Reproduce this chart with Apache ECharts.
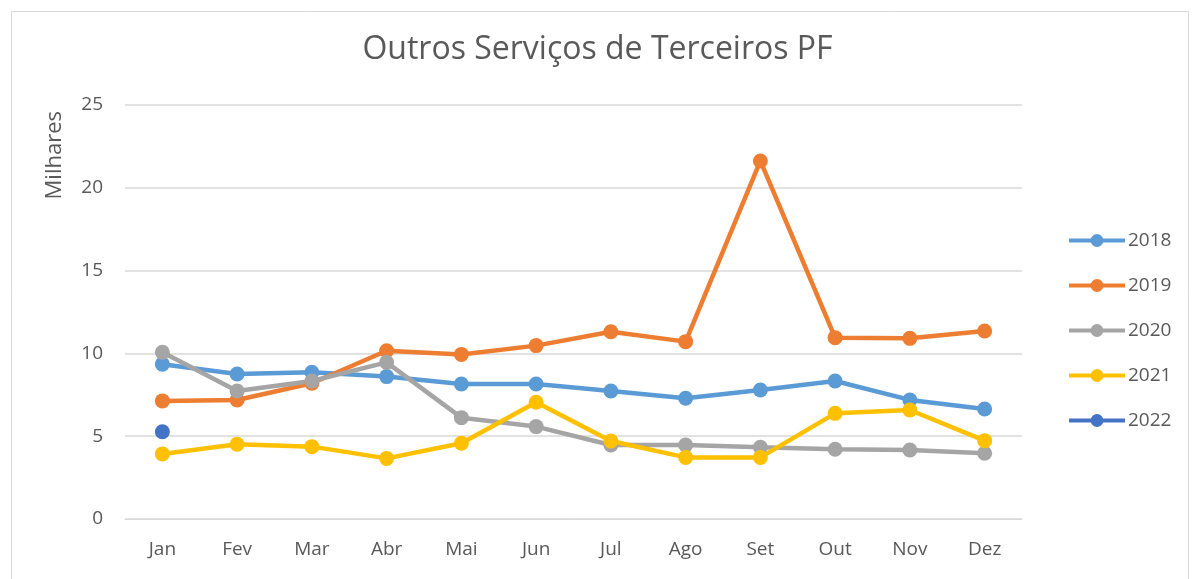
<!DOCTYPE html>
<html><head><meta charset="utf-8">
<script src="https://cdn.jsdelivr.net/npm/echarts@6/dist/echarts.min.js"></script>
<style>html,body{margin:0;padding:0;background:#fff}#c{width:1195px;height:579px}</style>
</head><body><div id="c"></div>
<script>
const categories = ['Jan','Fev','Mar','Abr','Mai','Jun','Jul','Ago','Set','Out','Nov','Dez'];
const s2018 = [9.35, 8.76, 8.86, 8.6, 8.15, 8.15, 7.73, 7.29, 7.79, 8.33, 7.19, 6.64];
const s2019 = [7.13, 7.19, 8.2, 10.16, 9.94, 10.47, 11.31, 10.71, 21.62, 10.95, 10.91, 11.35];
const s2020 = [10.07, 7.73, 8.33, 9.46, 6.12, 5.58, 4.47, 4.47, 4.33, 4.21, 4.17, 3.97];
const s2021 = [3.93, 4.51, 4.37, 3.66, 4.57, 7.05, 4.71, 3.72, 3.72, 6.38, 6.58, 4.73];
const s2022 = [5.27, null, null, null, null, null, null, null, null, null, null, null];
const seriesNames = ['2018','2019','2020','2021','2022'];
const yTicks = [0, 5, 10, 15, 20, 25];
const colors = ['#5B9BD5','#ED7D31','#A5A5A5','#FFC000','#4472C4'];
const font = 'Open Sans, Liberation Sans, sans-serif';
const chart = echarts.init(document.getElementById('c'));
const mk = (name, data, i) => ({
  name, type: 'line', data, symbol: 'circle', symbolSize: 15,
  lineStyle: {width: 4.5, color: colors[i]}, itemStyle: {color: colors[i]},
  connectNulls: false
});
chart.setOption({
  animation: false,
  title: {text: 'Outros Serviços de Terceiros PF', left: 'center', top: 29,
    textStyle: {fontFamily: font, fontSize: 32, fontWeight: 'normal', color: '#595959'}},
  legend: {orient: 'vertical', left: 1062, top: 226, itemWidth: 56, itemHeight: 16, itemGap: 26,
    data: seriesNames,
    lineStyle: {width: 4},
    textStyle: {fontFamily: font, fontSize: 19, color: '#595959', padding: [0,0,0,-2]}},
  grid: {left: 125, right: 173, top: 105, bottom: 60},
  xAxis: {type: 'category', data: categories, boundaryGap: true,
    axisLine: {lineStyle: {color: '#D9D9D9', width: 1}}, axisTick: {show: false},
    axisLabel: {fontFamily: font, fontSize: 19, color: '#595959', margin: 21}},
  yAxis: {type: 'value', min: yTicks[0], max: yTicks[yTicks.length-1], interval: 5,
    axisLine: {show: false}, axisTick: {show: false},
    splitLine: {lineStyle: {color: '#D9D9D9', width: 1.5}},
    axisLabel: {fontFamily: font, fontSize: 19, color: '#595959', margin: 22}},
  graphic: [
    {type: 'rect', left: 9, top: 9, shape: {width: 1177, height: 580}, style: {fill: 'none', stroke: '#D9D9D9', lineWidth: 1}},
    {type: 'text', left: 44, top: 111, rotation: Math.PI/2, style: {text: 'Milhares', font: '22px ' + font, fill: '#595959'}}
  ],
  series: [mk('2018', s2018, 0), mk('2019', s2019, 1), mk('2020', s2020, 2), mk('2021', s2021, 3), mk('2022', s2022, 4)]
});
</script></body></html>
